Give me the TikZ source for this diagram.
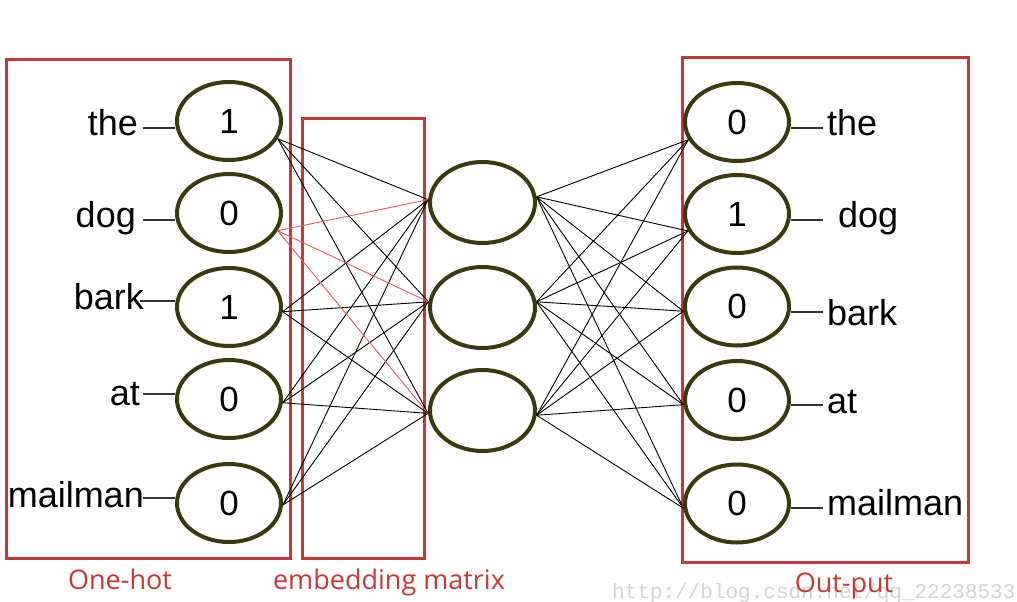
\documentclass[tikz,border=0pt]{standalone}
\usepackage{fontspec}
\setmainfont{Liberation Sans}
\newfontfamily\osans{Open Sans}
\newfontfamily\wmono{Liberation Mono}
\usetikzlibrary{shapes.geometric}
\definecolor{boxred}{RGB}{200,55,55}
\definecolor{olivec}{RGB}{58,58,16}
\definecolor{wmgray}{RGB}{212,212,212}
\definecolor{wred}{RGB}{228,90,90}
\begin{document}
\begin{tikzpicture}[x=1pt,y=-1pt,
 unit/.style={ellipse,draw=olivec,line width=4pt,minimum width=104pt,minimum height=78pt,inner sep=0pt,font=\fontsize{35}{35}\selectfont},
 hid/.style={unit,minimum width=105pt,minimum height=81pt},
 word/.style={inner sep=0pt,font=\fontsize{36}{36}\selectfont},
 frame/.style={draw=boxred,line width=3pt,inner sep=0pt,outer sep=0pt},
 capt/.style={inner sep=0pt,anchor=base,text=boxred,font=\osans\fontsize{27}{27}\selectfont},
 wire/.style={line width=0.9pt,black},
 redwire/.style={line width=0.9pt,wred},
 tick/.style={line width=1.2pt,black!80}]
\useasboundingbox (0,0) rectangle (1017,602);

% frames
\node[frame,minimum width=284pt,minimum height=498pt] (bin) at (148.5,309) {};
\node[frame,minimum width=122pt,minimum height=440pt] (bemb) at (363,338) {};
\node[frame,minimum width=286pt,minimum height=504pt] (bout) at (825,310) {};

% input units
\node[unit] (l1) at (229,121) {1};
\node[unit] (l2) at (229,213) {0};
\node[unit] (l3) at (229,307) {1};
\node[unit] (l4) at (229,399) {0};
\node[unit] (l5) at (229,503) {0};

% hidden units
\node[hid] (h1) at (482.5,202.5) {};
\node[hid] (h2) at (482.5,307.5) {};
\node[hid] (h3) at (482.5,410.5) {};

% output units
\node[unit] (o1) at (737,122) {0};
\node[unit] (o2) at (737,214) {1};
\node[unit] (o3) at (737,306.5) {0};
\node[unit] (o4) at (737,400) {0};
\node[unit] (o5) at (737,503.5) {0};

% input -> hidden
\foreach \i/\a in {1/-20,3/-5,4/-4,5/-2}
  \foreach \j/\b in {1/177,2/174,3/183}
    {\draw[wire] (l\i.\a) -- (h\j.\b);}
\foreach \j/\b in {1/177,2/174,3/183}
    {\draw[redwire] (l2.-20) -- (h\j.\b);}

% hidden -> output
\foreach \j/\b in {1/6,2/6,3/-5}
  \foreach \k/\c in {1/200,2/199,3/185,4/185,5/185}
    {\draw[wire] (h\j.\b) -- (o\k.\c);}

% left words
\node[word,anchor=base east] (w1) at (138,135) {the};
\node[word,anchor=base east] (w2) at (136,227) {dog};
\node[word,anchor=base east] (w3) at (144,309) {bark};
\node[word,anchor=base east] (w4) at (140,405) {at};
\node[word,anchor=base east] (w5) at (144,507) {mailman};

\coordinate (t1) at (143,128);
\coordinate (t2) at (143,220);
\coordinate (t3) at (140,301);
\coordinate (t4) at (143,394);
\coordinate (t5) at (143,498);
\foreach \i in {1,...,5} {\draw[tick] (t\i) -- (t\i -| l\i.west);}

% right words
\node[word,anchor=base west] (v1) at (827,135) {the};
\node[word,anchor=base west] (v2) at (838,227) {dog};
\node[word,anchor=base west] (v3) at (827,325) {bark};
\node[word,anchor=base west] (v4) at (827,413) {at};
\node[word,anchor=base west] (v5) at (827,515) {mailman};

\coordinate (u1) at (823,128);
\coordinate (u2) at (823,220);
\coordinate (u3) at (823,312);
\coordinate (u4) at (823,405);
\coordinate (u5) at (823,508);
\foreach \i in {1,...,5} {\draw[tick] (o\i.east |- u\i) -- (u\i);}

% watermark
\node[inner sep=0pt,anchor=base west,text=wmgray,font=\wmono\fontsize{21}{21}\selectfont] (wm) at (612,598) {http://blog.csdn.net/qq\_22238533};

% captions
\node[capt] (c1) at (120,589) {One-hot};
\node[capt] (c2) at (389,589) {embedding matrix};
\node[capt] (c3) at (844,592) {Out-put};
\end{tikzpicture}
\end{document}
